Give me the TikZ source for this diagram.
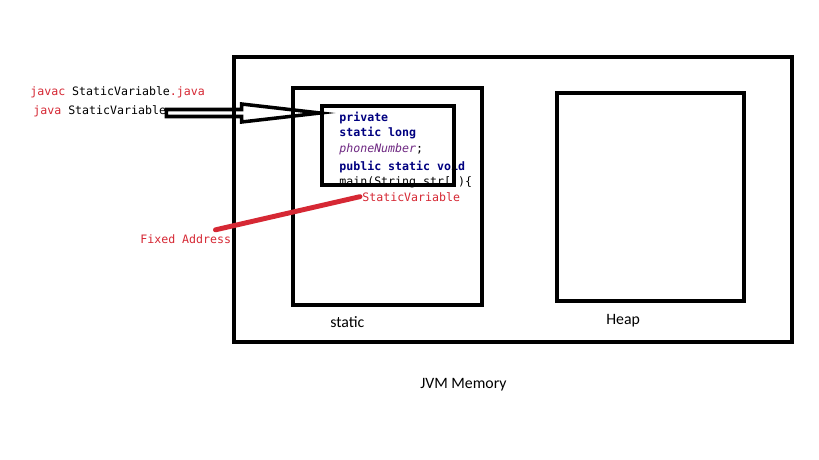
\documentclass[tikz,border=0pt]{standalone}
\usepackage{fontspec}
\setmainfont{Carlito}
\setmonofont{DejaVu Sans Mono}
\usetikzlibrary{calc}
\definecolor{keyred}{RGB}{214,40,52}
\definecolor{keynavy}{RGB}{0,0,128}
\definecolor{varpurple}{RGB}{110,40,130}
\tikzset{
  membox/.style={line width=2.6pt},
  codetxt/.style={anchor=base west, inner sep=0pt, font=\ttfamily\fontsize{6.6}{8}\selectfont},
  kwtxt/.style={codetxt, text=keynavy, font=\ttfamily\bfseries\fontsize{6.6}{8}\selectfont},
  labeltxt/.style={anchor=base west, inner sep=0pt, font=\fontsize{9}{11}\selectfont},
  pinline/.style={keyred, line width=2.8pt, line cap=round},
  hollowarrow/.style={line width=2pt, line join=miter}
}
\begin{document}
\begin{tikzpicture}[x=0.02cm, y=-0.02cm]
    \useasboundingbox[fill=white] (0,0) rectangle (819,460);

    % Compile commands
    \node[codetxt] (javac) at (30,95) {\textcolor{keyred}{javac} StaticVariable\textcolor{keyred}{.java}};
    \node[codetxt] (java) at (33,114) {\textcolor{keyred}{java} StaticVariable};

    % Code in the static area
    \node[kwtxt] (l1) at (339,121) {private};
    \node[kwtxt] (l2) at (339,136) {static long};
    \node[codetxt] (l3) at (339,152) {\textcolor{varpurple}{\itshape phoneNumber};};
    \node[kwtxt] (l4) at (339,170) {public static void};
    \node[codetxt] (l5) at (339,185) {main(String str[])\{};
    \node[codetxt, text=keyred] (sv) at (362,201) {StaticVariable};
    \node[codetxt, text=keyred] (fixed) at (140,243) {Fixed Address};

    % Memory areas
    \draw[membox] (234,57) rectangle (792,342);
    \draw[membox] (293,88) rectangle (482,305);
    \draw[membox] (322,106) rectangle (454,185);
    \draw[membox] (557,93) rectangle (744,301);
    \coordinate (codew) at (320,113);

    \node[labeltxt] (static) at (330,327) {static};
    \node[labeltxt] (heap) at (606,324) {Heap};
    \node[labeltxt] (jvm) at (420,388) {JVM Memory};

    % Hollow arrow into the code block
    \coordinate (tail) at (java.base east);
    \coordinate (tail) at (tail |- codew);
    \coordinate (headbase) at ($(tail)!0.49!(codew)$);
    \draw[hollowarrow] ($(tail)+(0,-3.5)$) -- ($(headbase)+(0,-3.5)$)
        -- ($(headbase)+(0,-9)$) -- (codew) -- ($(headbase)+(0,9)$)
        -- ($(headbase)+(0,3.5)$) -- ($(tail)+(0,3.5)$) -- cycle;

    % Pointer to the fixed address
    \draw[pinline] ([shift={(-16,-4)}]fixed.north east) -- ([shift={(-2,0)}]sv.west);
\end{tikzpicture}
\end{document}
